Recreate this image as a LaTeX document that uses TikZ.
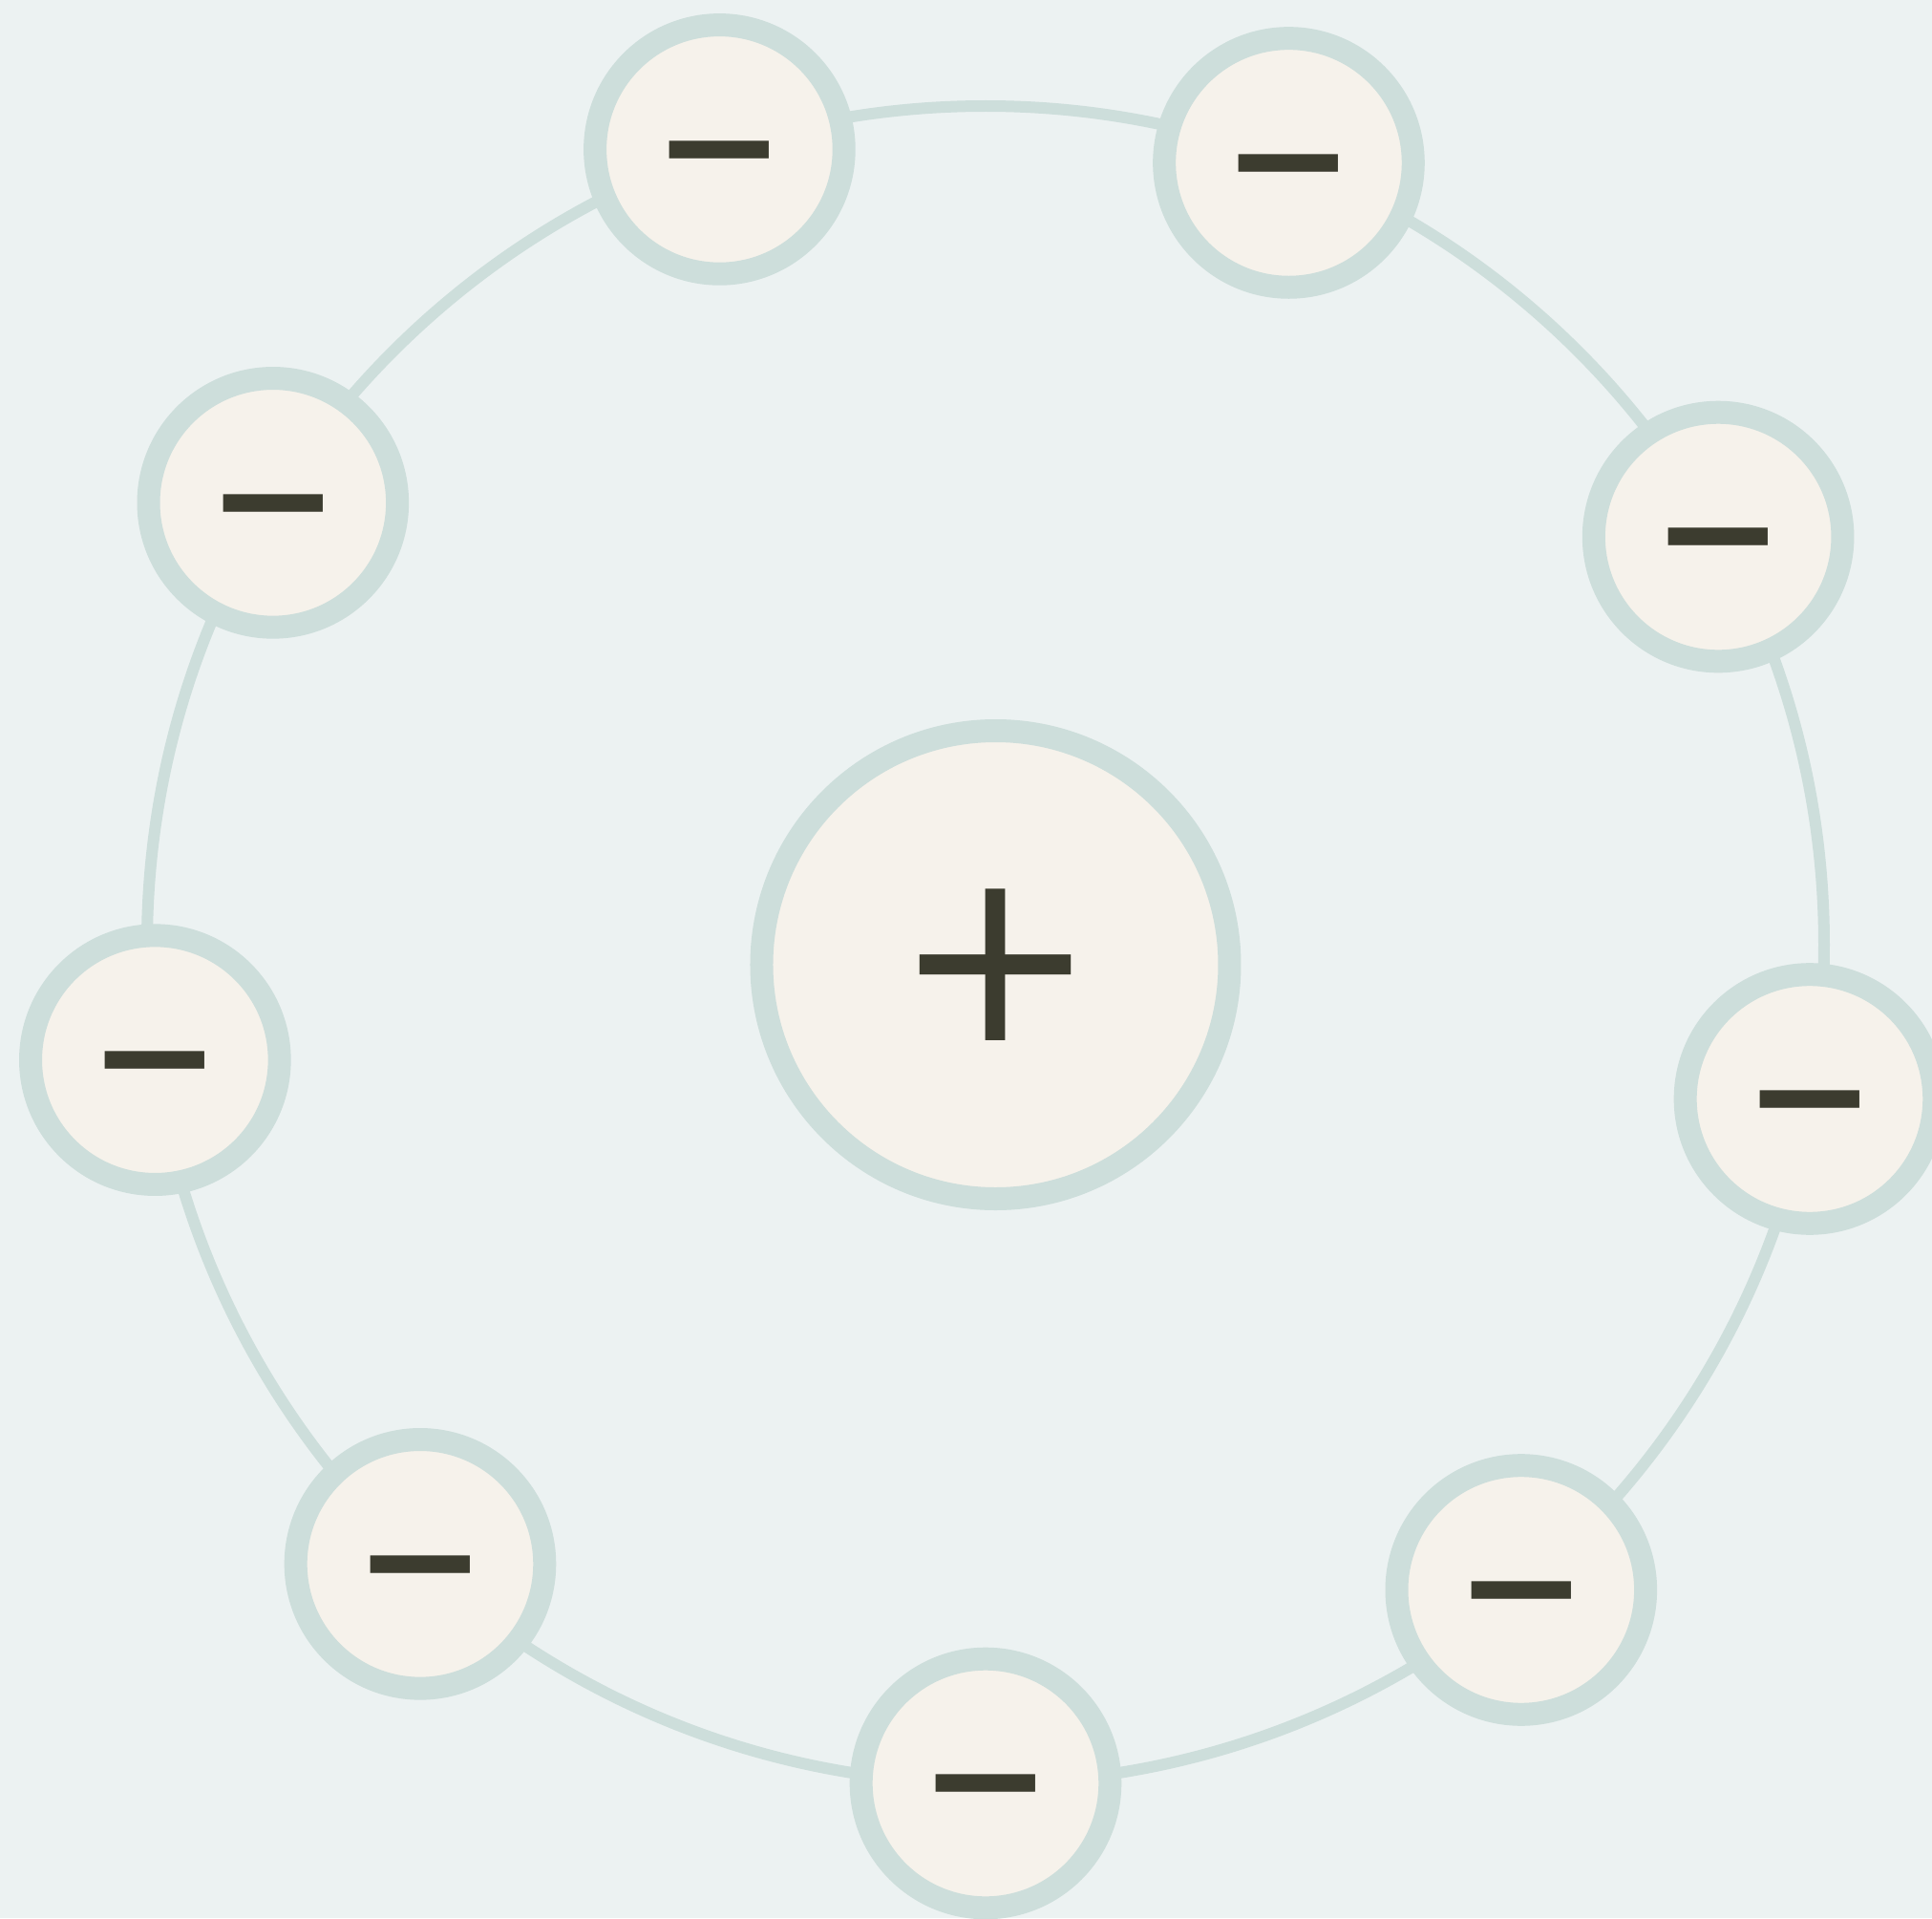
\documentclass[tikz,border=0pt]{standalone}
\usepackage{fontspec}
\usepackage{tikz}
\newfontfamily\signfont{DejaVu Sans}
\definecolor{paper}{RGB}{236, 242, 242}
\definecolor{shell}{RGB}{205, 222, 219}
\definecolor{cream}{RGB}{246, 242, 235}
\definecolor{ink}{RGB}{60, 60, 47}

\begin{document}
\begin{tikzpicture}[
    charge/.style={circle, draw=shell, fill=cream, line width=0.24cm, inner sep=0pt, text=ink},
    electron/.style={charge, minimum size=2.606cm, font=\signfont\fontsize{47.4}{50}\selectfont, text height=39.7pt, text depth=0pt},
    nucleus/.style={charge, minimum size=4.9cm, font=\signfont\fontsize{72}{76}\selectfont, text height=45.4pt, text depth=0pt}]
  \path[use as bounding box, fill=paper] (-10.32, -10.19) rectangle (9.91, 9.89);
  \clip (-10.32, -10.19) rectangle (9.91, 9.89);

  % Orbit
  \coordinate (orbit) at (0, 0);
  \draw[shell, line width=0.12cm] (orbit) circle (8.78);

  % Nucleus
  \node[nucleus] (core) at (0.105, -0.21) {+};

  % Electrons
  \foreach \k in {0,...,8} {
    \node[electron] (electron\k) at ({-90 + 39.7 * \k}:8.78) {\scalebox{1}[1.33]{−}};
  }
\end{tikzpicture}
\end{document}
